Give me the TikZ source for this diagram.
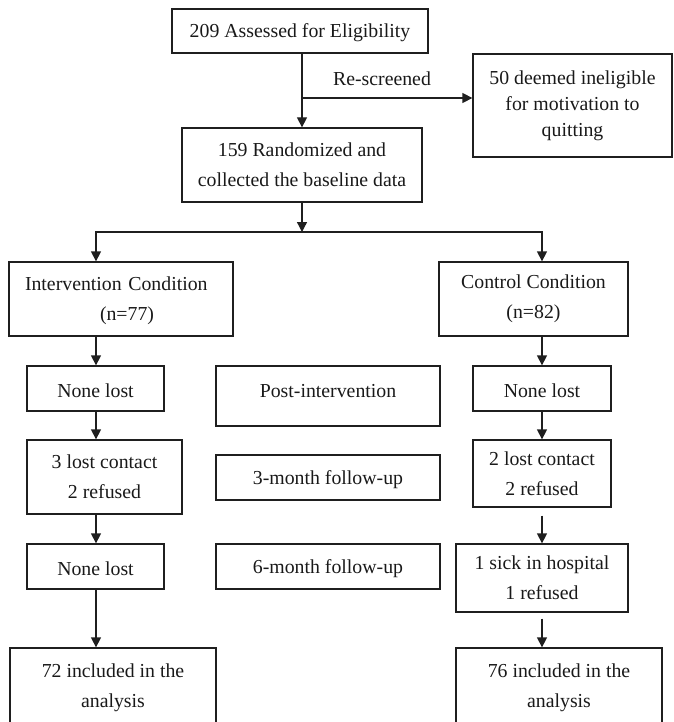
\documentclass[tikz,border=0pt]{standalone}
\usepackage{fontspec}
\setmainfont{Liberation Serif}
\usetikzlibrary{arrows.meta,calc}
\begin{document}
\begin{tikzpicture}[x=1pt,y=-1pt,
  box/.style={draw=black!88, line width=1.3pt, inner sep=0pt, align=center,
    font=\fontsize{19.8}{30}\selectfont, text=black!90,
    execute at begin node={\rule{0pt}{17.5pt}}},
  arr/.style={draw=black!88, line width=1.3pt, -{Triangle[length=10pt,width=10pt]}},
  ln/.style={draw=black!88, line width=1.3pt}]
\useasboundingbox (0,0) rectangle (673,722);
\clip (0,0) rectangle (673,722);
% top
\node[box, minimum width=256pt, minimum height=44pt] (assess) at (300,31) {209 Assessed for Eligibility};
\node[box, minimum width=199pt, minimum height=103pt, font=\fontsize{19.8}{26}\selectfont,
  execute at begin node={\rule{0pt}{24pt}}] (inelig) at (572.5,105.5)
  {50 deemed ineligible\\for motivation to\\quitting};
\node[box, minimum width=240pt, minimum height=74pt] (random) at (302,165) {159 Randomized and\\collected the baseline data};
\node[font=\fontsize{19.8}{24}\selectfont, inner sep=0pt, text=black!90] (rescr) at (382,79) {Re-screened};
% conditions
\node[box, minimum width=224pt, minimum height=74pt, text width=192pt, align=left] (interv) at (121,299)
  {Intervention Condition\\\hspace*{75pt}(n=77)};
\node[box, minimum width=189pt, minimum height=74pt] (control) at (533.5,299) {Control Condition\\(n=82)};
% left column
\node[box, minimum width=137pt, minimum height=45pt] (none1) at (95.5,388.5) {None lost};
\node[box, minimum width=155pt, minimum height=74pt] (lost1) at (104.5,477) {3 lost contact\\2 refused};
\node[box, minimum width=137pt, minimum height=45pt] (none2) at (95.5,566.5) {None lost};
\node[box, minimum width=206pt, minimum height=80pt] (incl1) at (113,688) {72 included in the\\analysis};
% middle column
\node[box, minimum width=224pt, minimum height=60pt, text depth=15.5pt] (post) at (328,396) {Post-intervention};
\node[box, minimum width=224pt, minimum height=45pt] (m3) at (328,477.5) {3-month follow-up};
\node[box, minimum width=224pt, minimum height=45pt] (m6) at (328,566.5) {6-month follow-up};
% right column
\node[box, minimum width=138pt, minimum height=45pt] (none3) at (542,388.5) {None lost};
\node[box, minimum width=138pt, minimum height=67pt] (lost2) at (542,473.5) {2 lost contact\\2 refused};
\node[box, minimum width=172pt, minimum height=68pt] (sick) at (542,578) {1 sick in hospital\\1 refused};
\node[box, minimum width=206pt, minimum height=80pt] (incl2) at (559,688) {76 included in the\\analysis};
% connectors
\coordinate (br) at (random.north |- 0,98);
\draw[arr] (assess.south -| random.north) -- (random.north);
\draw[arr] (br) -- (br -| inelig.west);
\coordinate (split) at (random.south |- 0,232);
\coordinate (sl) at (96,232);
\coordinate (sr) at (542,232);
\draw[arr] (random.south) -- (split);
\draw[ln, line cap=rect] (sl) -- (sr);
\draw[arr] (sl) -- (sl |- interv.north);
\draw[arr] (sr) -- (sr |- control.north);
\draw[arr] (sl |- interv.south) -- (sl |- none1.north);
\draw[arr] (sl |- none1.south) -- (sl |- lost1.north);
\draw[arr] (sl |- lost1.south) -- (sl |- none2.north);
\draw[arr] (sl |- none2.south) -- (sl |- incl1.north);
\draw[arr] (sr |- control.south) -- (none3.north);
\draw[arr] (none3.south) -- (lost2.north);
\draw[arr, shorten <=8pt] (lost2.south) -- (sick.north);
\draw[arr, shorten <=6pt] (sick.south) -- (sick.south |- incl2.north);
\end{tikzpicture}
\end{document}
